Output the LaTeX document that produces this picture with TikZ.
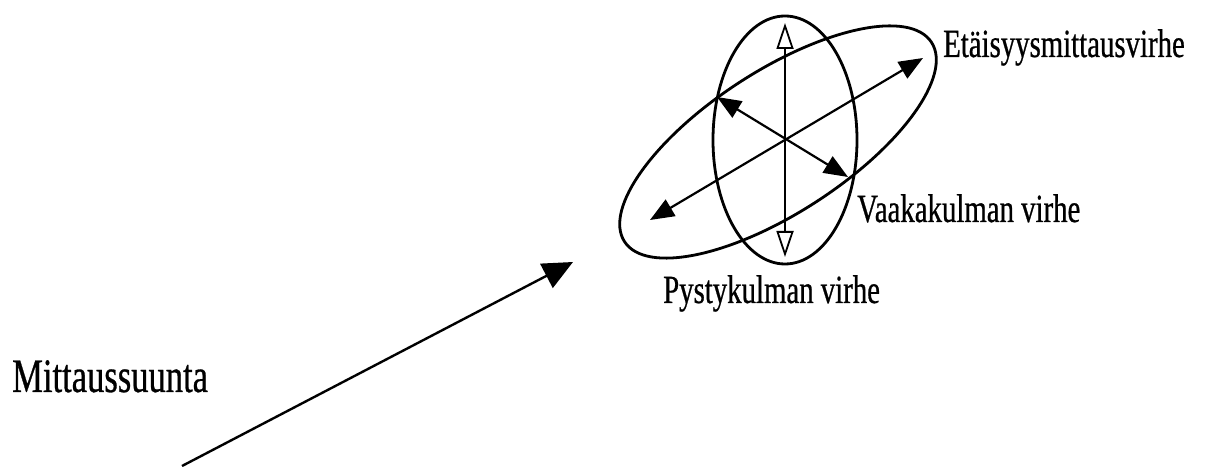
\documentclass[tikz,border=0pt]{standalone}
\usepackage{fontspec}
\usetikzlibrary{arrows.meta}
\newfontfamily\labfont[FakeStretch=0.72,FakeBold=0.6]{Liberation Serif}
\begin{document}
\begin{tikzpicture}[x=1pt,y=1pt,
  lab/.style={inner sep=0pt,anchor=base west,font=\labfont\fontsize{40}{48}\selectfont},
  ell/.style={line width=2.8pt},
  arr/.style={line width=2.2pt},
  bothsolid/.style={{Triangle[length=24pt,width=19pt]}-{Triangle[length=24pt,width=19pt]}},
  bothopen/.style={{Triangle[open,fill=white,length=26pt,width=17pt]}-{Triangle[open,fill=white,length=26pt,width=17pt]}}]
\useasboundingbox (0,0) rectangle (1205,466);
% ellipses
\coordinate (c) at (785,326);
\coordinate (ct) at (778,324);
\draw[ell] (c) ellipse [x radius=72, y radius=124];
\draw[ell,rotate around={33:(ct)}] (ct) ellipse [x radius=183, y radius=71];
% error arrows
\coordinate (vt) at (785,443);
\coordinate (vb) at (785,209);
\coordinate (ml) at (650,246);
\coordinate (mr) at (923,408);
\coordinate (dl) at (717,369);
\coordinate (dr) at (848,289);
\draw[arr,bothsolid] (ml) -- (mr);
\draw[arr,bothsolid] (dl) -- (dr);
\draw[arr,line width=1.8pt,bothopen] (vb) -- (vt);
% measurement direction
\coordinate (ms) at (182,0);
\coordinate (me) at (573,204);
\draw[line width=2.4pt,-{Triangle[length=30pt,width=27pt]}] (ms) -- (me);
% labels
\node[lab] (mitt) at (12,74) {\fontsize{48}{56}\selectfont Mittaussuunta};
\node[lab] (eta) at (943,409) {Etäisyysmittausvirhe};
\node[lab] (vaa) at (857,244) {Vaakakulman virhe};
\node[lab] (pys) at (663,163) {Pystykulman virhe};
\end{tikzpicture}
\end{document}
